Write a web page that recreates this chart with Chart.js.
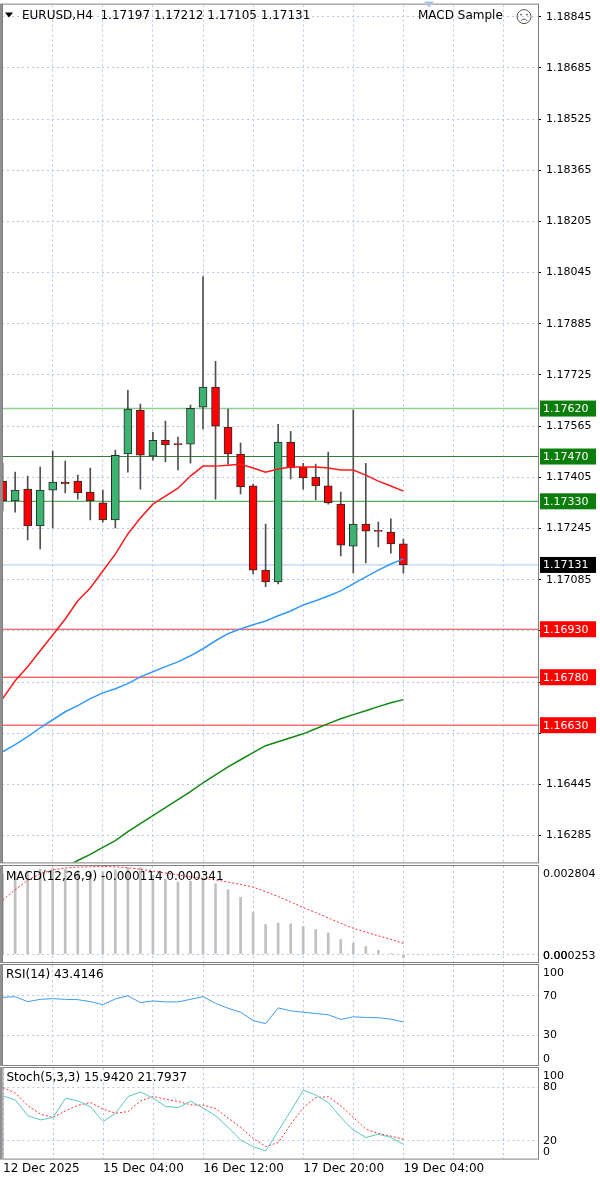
<!DOCTYPE html>
<html><head><meta charset="utf-8">
<script src="https://cdn.jsdelivr.net/npm/chart.js@4.4.1/dist/chart.umd.min.js"></script>
<style>
html,body{margin:0;padding:0;background:#fff;width:600px;height:1181px;overflow:hidden;position:relative}
canvas{position:absolute;left:0}
</style></head><body>
<canvas id="cMacd" style="top:864px" width="600" height="99"></canvas>
<canvas id="cRsi" style="top:963px" width="600" height="103"></canvas>
<canvas id="cSto" style="top:1066px" width="600" height="115"></canvas>
<canvas id="cMain" style="top:-7px" width="600" height="881"></canvas>
<script>
// ---- data ----
const opens  = [1.17393,1.17331,1.17368,1.17253,1.17365,1.17390,1.17393,1.17359,1.17325,1.17272,1.17478,1.17615,1.17471,1.17521,1.17509,1.17509,1.17624,1.17687,1.17562,1.17478,1.17378,1.17115,1.17078,1.17515,1.17437,1.17406,1.17378,1.17321,1.17190,1.17259,1.17237,1.17234,1.17197];
const highs  = [1.17449,1.17421,1.17409,1.17437,1.17487,1.17456,1.17412,1.17434,1.17365,1.17490,1.17677,1.17634,1.17546,1.17581,1.17531,1.17631,1.18033,1.17768,1.17618,1.17512,1.17384,1.17259,1.17571,1.17549,1.17449,1.17446,1.17484,1.17359,1.17615,1.17449,1.17265,1.17275,1.17212];
const lows   = [1.17300,1.17296,1.17209,1.17181,1.17247,1.17356,1.17337,1.17272,1.17265,1.17247,1.17421,1.17368,1.17459,1.17453,1.17428,1.17449,1.17556,1.17337,1.17446,1.17353,1.17103,1.17063,1.17072,1.17400,1.17368,1.17334,1.17321,1.17159,1.17106,1.17137,1.17187,1.17168,1.17105];
const closes = [1.17331,1.17365,1.17253,1.17365,1.17390,1.17384,1.17356,1.17331,1.17272,1.17474,1.17618,1.17474,1.17521,1.17506,1.17507,1.17621,1.17687,1.17565,1.17478,1.17375,1.17115,1.17078,1.17515,1.17434,1.17403,1.17378,1.17325,1.17193,1.17259,1.17237,1.17236,1.17197,1.17131];
const maRed   = [1.16713,1.16769,1.16813,1.16863,1.16912,1.16962,1.17019,1.17059,1.17112,1.17165,1.17228,1.17278,1.17321,1.17346,1.17371,1.17409,1.17440,1.17440,1.17443,1.17446,1.17434,1.17421,1.17431,1.17437,1.17437,1.17437,1.17434,1.17428,1.17428,1.17412,1.17393,1.17378,1.17362];
const maBlue  = [1.16547,1.16569,1.16594,1.16622,1.16647,1.16672,1.16691,1.16713,1.16731,1.16744,1.16760,1.16781,1.16797,1.16813,1.16828,1.16847,1.16869,1.16894,1.16916,1.16931,1.16944,1.16956,1.16972,1.16987,1.17006,1.17019,1.17034,1.17050,1.17072,1.17094,1.17115,1.17134,1.17150];
const maGreen = [1.16079,1.16101,1.16123,1.16144,1.16166,1.16185,1.16207,1.16226,1.16248,1.16269,1.16297,1.16322,1.16347,1.16372,1.16397,1.16422,1.16450,1.16475,1.16500,1.16522,1.16544,1.16566,1.16578,1.16591,1.16603,1.16619,1.16635,1.16650,1.16663,1.16675,1.16688,1.16700,1.16710];
const macdHist = [0.00255,0.00260,0.00265,0.00270,0.00272,0.00270,0.00266,0.00262,0.00262,0.00268,0.00275,0.00275,0.00250,0.00238,0.00229,0.00232,0.00241,0.00224,0.00205,0.00181,0.00132,0.00094,0.00099,0.00096,0.00088,0.00078,0.00067,0.00046,0.00034,0.00024,0.00012,0.00002,-0.000114];
const macdSignal = [0.00172,0.00205,0.00235,0.00256,0.00268,0.00274,0.00277,0.00278,0.00279,0.00278,0.00275,0.00270,0.00264,0.00258,0.00252,0.00246,0.00241,0.00236,0.00229,0.00222,0.00213,0.00199,0.00183,0.00166,0.00148,0.00132,0.00115,0.00098,0.00082,0.00070,0.00058,0.00047,0.000341];
const rsi = [68.3,69,64,66.3,67,66.3,66,64,61,66.7,70,63,64.7,63.7,63.7,66.3,69,62.3,57.3,53.3,45,41.7,57.7,54.7,53.3,52,50.7,46,48.7,48,47.7,46.3,43.4146];
const stochK = [70.6,65.8,48.1,43.6,46.3,68,65,58.3,41.8,51.1,69.9,75.1,68,58.6,57.5,64.6,56.8,48.1,35,20.8,13.3,8.8,31.3,53.8,77,71.4,63.1,46.3,32,23.8,27.5,23.8,15.942];
const stochD = [80,73.6,59.4,50,46.3,53.8,60.1,63.1,55.6,51.1,53,65,69.9,66.9,64.3,60.5,60.1,56.4,45.5,35,22.6,13.6,18.1,38.8,57.5,68.8,69.6,59.4,46.3,33.1,28.3,25.3,21.7937];
const priceTicks = [1.18845,1.18685,1.18525,1.18365,1.18205,1.18045,1.17885,1.17725,1.17565,1.17405,1.17245,1.17085,1.16925,1.16765,1.16605,1.16445,1.16285];
const hiddenTicks = [1.16925,1.16765,1.16605];
const xTickPos = [0,8,16,24,32];
const xTickText = ['12 Dec 2025','15 Dec 04:00','16 Dec 12:00','17 Dec 20:00','19 Dec 04:00'];
const greenLevels = [1.17620,1.17470,1.17330];
const redLevels = [1.16930,1.16780,1.16630];
const lastPrice = 1.17131;

// ---- helpers ----
const FONT = 'DejaVu Sans';
const GRID = '#b8c8e0';
const XMIN = -0.05, XMAX = 42.75;
const pts = arr => arr.map((v,i)=>({x:i,y:v}));
const AXW = 62;

const framePlugin = {
  id:'frame',
  afterDraw(chart){
    const o = chart.options.plugins.frame || {};
    const {ctx, chartArea:a, scales:{y}} = chart;
    ctx.save();
    ctx.strokeStyle='#808080'; ctx.lineWidth=1;
    ctx.strokeRect(a.left+0.5,a.top-0.5,a.right-a.left,a.bottom-a.top+1);
    ctx.fillStyle='#909090'; ctx.fillRect(0,a.top-1,2,a.bottom-a.top+2);
    (o.boxes||[]).forEach(b=>{
      const py = y.getPixelForValue(b.v);
      ctx.fillStyle=b.bg; ctx.fillRect(a.right+2,py-8,56,16);
      ctx.fillStyle='#fff'; ctx.font='11px '+FONT; ctx.textBaseline='middle'; ctx.textAlign='left';
      ctx.fillText(b.v.toFixed(5),a.right+5,py+0.5);
    });
    (o.ylabels||[]).forEach(l=>{
      let py = y.getPixelForValue(l.v);
      py = Math.max(a.top+8, Math.min(a.bottom-6, py));
      ctx.fillStyle='#000'; ctx.font='11px '+FONT; ctx.textBaseline='middle'; ctx.textAlign='left';
      ctx.fillText(l.t,a.right+5,py);
    });
    if(o.title){
      ctx.fillStyle='#000'; ctx.font='12px '+FONT; ctx.textBaseline='top'; ctx.textAlign='left';
      ctx.fillText(o.title,o.tx||a.left+4,a.top+(o.ty||4));
    }
    if(o.main){
      const t=a.top;
      ctx.beginPath(); ctx.moveTo(5,t+8); ctx.lineTo(13,t+8); ctx.lineTo(9,t+13); ctx.closePath();
      ctx.fillStyle='#000'; ctx.fill();
      ctx.font='12px '+FONT; ctx.textBaseline='top';
      ctx.fillText('MACD Sample',418,t+5);
      ctx.beginPath(); ctx.arc(524,t+12,7,0,Math.PI*2); ctx.strokeStyle='#555'; ctx.stroke();
      ctx.beginPath(); ctx.arc(521,t+10,0.9,0,7); ctx.arc(527,t+10,0.9,0,7); ctx.fillStyle='#555'; ctx.fill();
      ctx.beginPath(); ctx.arc(524,t+18,3.5,Math.PI*1.15,Math.PI*1.85); ctx.stroke();
      ctx.beginPath(); ctx.moveTo(424,t-3); ctx.lineTo(434,t-3); ctx.lineTo(429,t+3); ctx.closePath();
      ctx.fillStyle='#a9c4e6'; ctx.fill();
    }
    ctx.restore();
  }
};

function xScale(showLabels){
  return {
    type:'linear', min:XMIN, max:XMAX, offset:false,
    afterBuildTicks(s){ const t=[]; for(let i=0;i<=40;i+=4) t.push({value:i}); s.ticks=t; },
    ticks:{display:showLabels, autoSkip:false, maxRotation:0, align:'start', padding:3,
      color:'#000', font:{family:FONT,size:12},
      callback:v=>{const k=xTickPos.indexOf(v); return k>=0?xTickText[k]:'';}},
    grid:{color:GRID, drawTicks:false, offset:false},
    border:{display:false, dash:[2,3]}
  };
}
function yScale(min,max,ticks,showLabels){
  return {
    position:'right', min, max,
    afterBuildTicks(s){ s.ticks = ticks.map(v=>({value:v})); },
    afterFit(s){ s.width = AXW; },
    ticks:{display:showLabels, color:'#000', padding:5, font:{family:FONT,size:11},
      callback:v=> hiddenTicks.includes(v) ? '' : v.toFixed(5)},
    grid:{color:GRID, drawTicks:showLabels, tickLength:3, tickColor:'#000'},
    border:{display:false, dash:[2,3]}
  };
}
const base = (pad)=>({responsive:false, animation:false, events:[], layout:{padding:pad},
  plugins:{legend:{display:false}, tooltip:{enabled:false}}});
const lineDs = (data,color,extra)=>Object.assign({type:'line',data:pts(data),borderColor:color,borderWidth:1.5,pointRadius:0,tension:0},extra||{});
const levelDs = (v,color,w)=>({type:'line',data:[{x:XMIN,y:v},{x:XMAX,y:v}],borderColor:color,borderWidth:w||1,pointRadius:0});

// ---- main chart ----
const bodies = opens.map((o,i)=>({x:i,y:[Math.min(o,closes[i]),Math.max(o,closes[i])]}));
const wicks = lows.map((l,i)=>({x:i,y:[l,highs[i]]}));
const bodyColors = opens.map((o,i)=> closes[i]>=o ? '#3cb371' : '#ff0000');
const mOpts = base({left:2,top:0,right:0,bottom:0});
mOpts.scales = {x:xScale(false), y:yScale(1.16201,1.18883,priceTicks,true)};
mOpts.plugins.frame = {
  main:true, title:'EURUSD,H4  1.17197 1.17212 1.17105 1.17131', tx:22, ty:5,
  boxes:[{v:greenLevels[0],bg:'#0b7d0b'},{v:greenLevels[1],bg:'#0b7d0b'},{v:greenLevels[2],bg:'#0b7d0b'},
    {v:redLevels[0],bg:'#ff0000'},{v:redLevels[1],bg:'#ff0000'},{v:redLevels[2],bg:'#ff0000'},
    {v:lastPrice,bg:'#000000'}]
};
new Chart(document.getElementById('cMain'),{
  type:'bar',
  data:{datasets:[
    lineDs(maRed,'#ff1a1a'),
    lineDs(maBlue,'#3399ff'),
    lineDs(maGreen,'#118811'),
    {data:bodies,backgroundColor:bodyColors,borderColor:'#2a2a2a',borderWidth:1,borderSkipped:false,barThickness:8,grouped:false,minBarLength:1},
    {data:wicks,backgroundColor:'#505050',barThickness:1,grouped:false},
    levelDs(greenLevels[0],'#8fcf8f',1.5),
    levelDs(greenLevels[1],'#3d7a3d'),
    levelDs(greenLevels[2],'#2e9a2e'),
    levelDs(redLevels[0],'#ff3a3a'),
    levelDs(redLevels[1],'#ff2020'),
    levelDs(redLevels[2],'#ff7070',1.5),
    levelDs(lastPrice,'#a8c8f0')
  ]},
  options:mOpts,
  plugins:[framePlugin]
});

// ---- MACD ----
const macdOpts = base({left:2,top:2,right:0,bottom:1});
macdOpts.scales = {x:xScale(false), y:yScale(-0.000253,0.002804,[0],false)};
macdOpts.plugins.frame = {title:'MACD(12,26,9) -0.000114 0.000341', ty:5,
  ylabels:[{v:0.002804,t:'0.002804'},{v:-0.000253,t:'0.00'},{v:-0.000253,t:'0.000253'}]};
new Chart(document.getElementById('cMacd'),{
  type:'bar',
  data:{datasets:[
    lineDs(macdSignal,'#ff3030',{borderWidth:1,borderDash:[2,2]}),
    {data:pts(macdHist),backgroundColor:'#c0c0c0',barThickness:2,grouped:false}
  ]},
  options:macdOpts, plugins:[framePlugin]
});

// ---- RSI ----
const rsiOpts = base({left:2,top:2,right:0,bottom:1});
rsiOpts.scales = {x:xScale(false), y:yScale(0,101,[30,70],false)};
rsiOpts.plugins.frame = {title:'RSI(14) 43.4146',
  ylabels:[{v:100,t:'100'},{v:70,t:'70'},{v:30,t:'30'},{v:0,t:'0'}]};
new Chart(document.getElementById('cRsi'),{
  type:'line',
  data:{datasets:[lineDs(rsi,'#3d9bf0',{borderWidth:1})]},
  options:rsiOpts, plugins:[framePlugin]
});

// ---- Stoch ----
const stoOpts = base({left:2,top:2,right:0,bottom:2});
stoOpts.scales = {x:xScale(true), y:yScale(0,102,[20,80],false)};
stoOpts.plugins.frame = {title:'Stoch(5,3,3) 15.9420 21.7937',
  ylabels:[{v:100,t:'100'},{v:80,t:'80'},{v:20,t:'20'},{v:0,t:'0'}]};
new Chart(document.getElementById('cSto'),{
  type:'line',
  data:{datasets:[
    lineDs(stochK,'#5cc8c0',{borderWidth:1}),
    lineDs(stochD,'#ff3030',{borderWidth:1,borderDash:[2,2]})
  ]},
  options:stoOpts, plugins:[framePlugin]
});
</script></body></html>
